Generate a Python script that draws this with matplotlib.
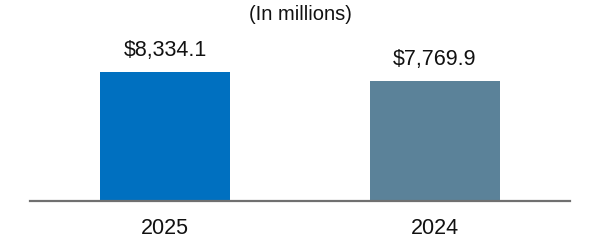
import matplotlib.pyplot as plt

plt.rcParams["font.family"] = ["Liberation Sans", "DejaVu Sans"]

years = ["2025", "2024"]
values = [8334.1, 7769.9]
colors = ["#0070C0", "#5B8299"]

fig = plt.figure(figsize=(6, 2.4), dpi=100)
ax = fig.add_axes([0.05, 39 / 240, 540 / 600, 201 / 240])

x = range(len(years))
bars = ax.bar(x, values, width=0.481, color=colors)

ax.set_xlim(-0.5, 1.5)
ax.set_ylim(0, 12990)

for xi, v in zip(x, values):
    ax.annotate(f"${v:,.1f}", (xi, v), xytext=(0, 8), textcoords="offset points",
                ha="center", va="bottom", fontsize=15.5, color="#111111")

ax.set_xticks(list(x))
ax.set_xticklabels(years, fontsize=15.5, color="#111111")
ax.tick_params(axis="x", length=0, pad=12)
ax.set_yticks([])

for s in ["top", "right", "left"]:
    ax.spines[s].set_visible(False)
ax.spines["bottom"].set_color("#707070")
ax.spines["bottom"].set_linewidth(1.6)

fig.text(0.5, 1 - 15 / 240, "(In millions)", ha="center", va="center",
         fontsize=14.5, color="#111111")

fig.savefig("out.png", dpi=100)
